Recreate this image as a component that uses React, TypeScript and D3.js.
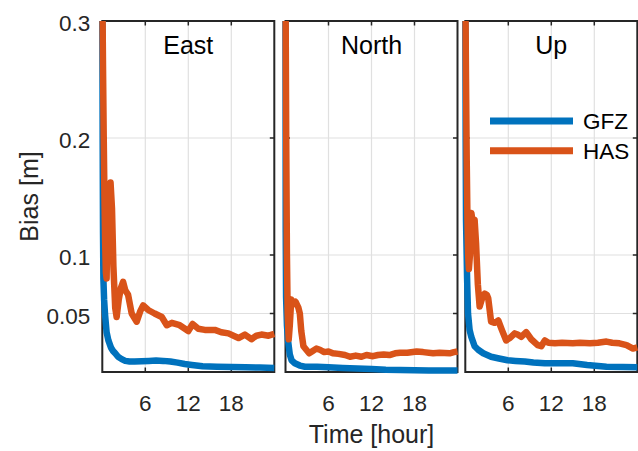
import React, { useEffect, useRef } from "react";
import * as d3 from "d3";

type Pt = [number, number];

// [hour, bias in metres]
const panelTitles = ["East", "North", "Up"];
const seriesNames = ["GFZ", "HAS"];
const seriesColors = ["#0072BD", "#D95319"];
const xTicks = [6, 12, 18];
const yTicks = [0.05, 0.1, 0.2, 0.3];
const yTickLabels = ["0.05", "0.1", "0.2", "0.3"];

const eastGFZ: Pt[] = [
  [0, 0.32], [0.05, 0.2], [0.1, 0.12], [0.15, 0.08], [0.25, 0.062], [0.4, 0.048],
  [0.6, 0.034], [0.85, 0.027], [1.2, 0.021], [1.5, 0.018], [1.8, 0.016], [2.2, 0.013],
  [2.7, 0.011], [3.2, 0.0095], [3.8, 0.009], [4.5, 0.009], [5.5, 0.0092], [6.5, 0.0095],
  [7.5, 0.0098], [8.5, 0.0095], [9.5, 0.009], [10.5, 0.008], [11.5, 0.0068], [12.5, 0.006],
  [14, 0.005], [16, 0.0045], [18, 0.0042], [20, 0.004], [22, 0.0038], [24, 0.0035],
];
const eastHAS: Pt[] = [
  [0, 0.33], [0.1, 0.26], [0.2, 0.2], [0.3, 0.15], [0.4, 0.11], [0.5, 0.085], [0.6, 0.08],
  [0.7, 0.12], [0.8, 0.155], [0.95, 0.135], [1.15, 0.162], [1.35, 0.14], [1.55, 0.09],
  [1.8, 0.055], [2.0, 0.047], [2.3, 0.062], [2.6, 0.072], [2.9, 0.077], [3.2, 0.07],
  [3.6, 0.066], [4.1, 0.05], [4.8, 0.043], [5.3, 0.052], [5.7, 0.057], [6.4, 0.053],
  [7.3, 0.05], [8.3, 0.047], [9.0, 0.04], [9.7, 0.042], [10.8, 0.04], [12, 0.035],
  [12.6, 0.041], [13.4, 0.037], [14.3, 0.036], [15.7, 0.036], [16.6, 0.034], [17.6, 0.033],
  [19, 0.029], [19.9, 0.032], [20.8, 0.028], [21.5, 0.031], [22.2, 0.032], [23.2, 0.031],
  [24, 0.0325],
];
const northGFZ: Pt[] = [
  [0, 0.3], [0.03, 0.12], [0.08, 0.064], [0.2, 0.04], [0.35, 0.027], [0.6, 0.015],
  [0.85, 0.01], [1.3, 0.0075], [2.0, 0.0055], [2.7, 0.0045], [4.4, 0.0045], [6, 0.004],
  [8, 0.0035], [10, 0.003], [12, 0.0025], [14, 0.002], [16, 0.0018], [18, 0.0015],
  [20, 0.0013], [22, 0.0012], [24, 0.0012],
];
const northHAS: Pt[] = [
  [0, 0.33], [0.1, 0.2], [0.2, 0.1], [0.3, 0.05], [0.45, 0.028], [0.6, 0.04], [0.8, 0.062],
  [1.1, 0.058], [1.4, 0.06], [1.8, 0.055], [2.0, 0.05], [2.2, 0.035], [2.5, 0.022],
  [2.9, 0.019], [3.3, 0.016], [3.8, 0.018], [4.3, 0.02], [4.8, 0.019], [5.4, 0.017],
  [6.0, 0.0175], [6.6, 0.016], [7.4, 0.0155], [8.3, 0.0145], [9.0, 0.013], [9.8, 0.014],
  [10.6, 0.013], [11.3, 0.0145], [12.2, 0.0135], [12.9, 0.0145], [13.7, 0.015],
  [14.5, 0.0145], [15.3, 0.016], [16, 0.0165], [17, 0.0165], [18.3, 0.0175], [19.2, 0.017],
  [20.6, 0.016], [21.5, 0.0165], [22.9, 0.016], [23.5, 0.017], [24, 0.0175],
];
const upGFZ: Pt[] = [
  [0, 0.32], [0.05, 0.2], [0.1, 0.13], [0.25, 0.08], [0.38, 0.05], [0.6, 0.036],
  [0.84, 0.03], [1.3, 0.022], [1.8, 0.019], [2.5, 0.016], [3.6, 0.013], [4.7, 0.0115],
  [5.9, 0.01], [7, 0.0095], [8.3, 0.009], [9.5, 0.0082], [11.1, 0.0074], [13, 0.0074],
  [15, 0.0074], [17, 0.006], [19.7, 0.0045], [22, 0.0042], [24, 0.004],
];
const upHAS: Pt[] = [
  [0, 0.33], [0.1, 0.25], [0.2, 0.18], [0.3, 0.13], [0.4, 0.1], [0.5, 0.088], [0.65, 0.1],
  [0.84, 0.136], [1.05, 0.128], [1.3, 0.13], [1.5, 0.11], [1.75, 0.075], [2.0, 0.056],
  [2.4, 0.064], [2.7, 0.067], [3.0, 0.066], [3.2, 0.063], [3.6, 0.043], [4.1, 0.042],
  [4.6, 0.044], [5.1, 0.036], [5.7, 0.027], [6.2, 0.029], [6.9, 0.033], [7.3, 0.032],
  [7.8, 0.03], [8.5, 0.034], [9.2, 0.028], [10.1, 0.023], [10.6, 0.022], [11.1, 0.027],
  [11.6, 0.025], [12.5, 0.0245], [13.5, 0.025], [15, 0.0245], [16, 0.025], [17.4, 0.0245],
  [18.5, 0.025], [19.7, 0.026], [20.5, 0.025], [21.5, 0.0245], [22.5, 0.023], [23.4, 0.02],
  [24, 0.021],
];

const panelSeries: Pt[][][] = [
  [eastGFZ, eastHAS],
  [northGFZ, northHAS],
  [upGFZ, upHAS],
];

const App = () => {
  const svgRef = useRef<SVGSVGElement>(null);

  useEffect(() => {
    const svg = d3.select(svgRef.current);
    svg.selectAll("*").remove();

    const font = "'Liberation Sans', Arial, Helvetica, sans-serif";
    const axisColor = "#262626";
    const gridColor = "#e0e0e0";
    const top = 21;
    const bottom = 372;
    const panelW = 172;
    const lefts = [102.3, 285.5, 465.3];
    const tickLen = 4.5;

    const y = d3.scaleLinear().domain([0, 0.3]).range([bottom, top]);

    lefts.forEach((left, p) => {
      const x = d3.scaleLinear().domain([0, 24]).range([left, left + panelW]);
      const g = svg.append("g");

      // gridlines
      g.selectAll(".vgrid")
        .data(xTicks)
        .enter()
        .append("line")
        .attr("x1", (d) => x(d))
        .attr("x2", (d) => x(d))
        .attr("y1", top)
        .attr("y2", bottom)
        .style("stroke", gridColor)
        .style("stroke-width", 1.2);
      g.selectAll(".hgrid")
        .data(yTicks.filter((d) => y(d) > top + 1))
        .enter()
        .append("line")
        .attr("x1", left)
        .attr("x2", left + panelW)
        .attr("y1", (d) => y(d))
        .attr("y2", (d) => y(d))
        .style("stroke", gridColor)
        .style("stroke-width", 1.2);

      // box and inward ticks
      g.append("rect")
        .attr("x", left)
        .attr("y", top)
        .attr("width", panelW)
        .attr("height", bottom - top)
        .style("fill", "none")
        .style("stroke", axisColor)
        .style("stroke-width", 2);
      xTicks.forEach((t) => {
        g.append("line").attr("x1", x(t)).attr("x2", x(t)).attr("y1", bottom).attr("y2", bottom - tickLen)
          .style("stroke", axisColor).style("stroke-width", 1.5);
        g.append("line").attr("x1", x(t)).attr("x2", x(t)).attr("y1", top).attr("y2", top + tickLen)
          .style("stroke", axisColor).style("stroke-width", 1.5);
      });
      yTicks.forEach((t) => {
        g.append("line").attr("x1", left).attr("x2", left + tickLen).attr("y1", y(t)).attr("y2", y(t))
          .style("stroke", axisColor).style("stroke-width", 1.5);
        g.append("line").attr("x1", left + panelW).attr("x2", left + panelW - tickLen).attr("y1", y(t)).attr("y2", y(t))
          .style("stroke", axisColor).style("stroke-width", 1.5);
      });

      // x tick labels
      g.selectAll(".xlab")
        .data(xTicks)
        .enter()
        .append("text")
        .attr("x", (d) => x(d))
        .attr("y", 410.5)
        .attr("text-anchor", "middle")
        .style("font-family", font)
        .style("font-size", "22.5px")
        .style("fill", axisColor)
        .text((d) => String(d));

      // y tick labels only on first panel
      if (p === 0) {
        g.selectAll(".ylab")
          .data(yTicks)
          .enter()
          .append("text")
          .attr("x", left - 12)
          .attr("y", (d) => y(d) + 10)
          .attr("text-anchor", "end")
          .style("font-family", font)
          .style("font-size", "22.5px")
          .style("fill", axisColor)
          .text((d, i) => yTickLabels[i]);
      }

      // data lines, clipped at the top of the box
      const clipId = `clip-${p}`;
      svg.append("clipPath")
        .attr("id", clipId)
        .append("rect")
        .attr("x", left - 10)
        .attr("y", top)
        .attr("width", panelW + 20)
        .attr("height", bottom - top + 10);

      const line = d3
        .line<Pt>()
        .x((d) => x(d[0]))
        .y((d) => y(d[1]));

      panelSeries[p].forEach((s, i) => {
        g.append("path")
          .attr("d", line(s))
          .attr("clip-path", `url(#${clipId})`)
          .style("fill", "none")
          .style("stroke", seriesColors[i])
          .style("stroke-width", 6.5)
          .style("stroke-linejoin", "round")
          .style("stroke-linecap", "butt");
      });

      g.append("text")
        .attr("x", left + panelW / 2)
        .attr("y", 54)
        .attr("text-anchor", "middle")
        .style("font-family", font)
        .style("font-size", "25px")
        .style("fill", "#000")
        .text(panelTitles[p]);
    });

    // legend inside the last panel
    seriesNames.forEach((name, i) => {
      const ly = 121 + i * 29.7;
      svg.append("line")
        .attr("x1", 490)
        .attr("x2", 573)
        .attr("y1", ly)
        .attr("y2", ly)
        .style("stroke", seriesColors[i])
        .style("stroke-width", 7);
      svg.append("text")
        .attr("x", 583)
        .attr("y", ly + 8)
        .style("font-family", font)
        .style("font-size", "22.5px")
        .style("fill", "#000")
        .text(name);
    });

    // axis labels
    svg.append("text")
      .attr("x", lefts[1] + panelW / 2)
      .attr("y", 443)
      .attr("text-anchor", "middle")
      .style("font-family", font)
      .style("font-size", "25px")
      .style("fill", axisColor)
      .text("Time [hour]");

    svg.append("text")
      .attr("transform", `translate(38,${(top + bottom) / 2}) rotate(-90)`)
      .attr("text-anchor", "middle")
      .style("font-family", font)
      .style("font-size", "25px")
      .style("fill", axisColor)
      .text("Bias [m]");
  }, []);

  return (
    <svg
      ref={svgRef}
      width={638}
      height={451}
      style={{ position: "absolute", left: 0, top: 0, background: "#fff" }}
    ></svg>
  );
};

export default App;
